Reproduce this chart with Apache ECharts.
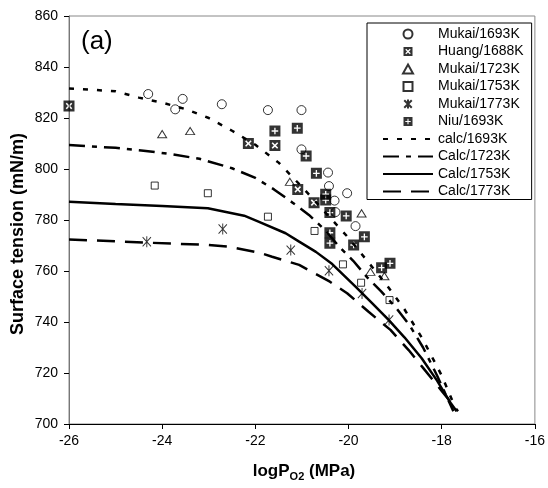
<!DOCTYPE html>
<html>
<head>
<meta charset="utf-8">
<script src="https://cdn.jsdelivr.net/npm/echarts@6/dist/echarts.min.js"></script>
<style>
html, body { margin: 0; padding: 0; background: #fff; }
#main { width: 548px; height: 488px; }
</style>
</head>
<body>
<div id="main"></div>
<script>
// measured points [logPO2, surface tension]
const mukai1693 = [[-24.3, 829.4], [-23.56, 827.5], [-23.72, 823.4], [-22.72, 825.4], [-21.73, 823.1], [-21.01, 823.1],
  [-21.01, 807.7], [-20.44, 798.6], [-20.42, 793.3], [-20.03, 790.5], [-20.3, 787.6], [-20.28, 783.1], [-19.85, 777.6]]
const huang1688 = [[-26, 824.7], [-22.15, 810], [-21.58, 809.2], [-21.09, 792], [-20.74, 786.8]]
const mukai1723 = [[-24.0, 813.7], [-23.4, 814.9], [-21.26, 795], [-19.72, 782.6], [-19.53, 759.7], [-19.23, 758]]
const mukai1753 = [[-24.16, 793.5], [-23.02, 790.5], [-21.73, 781.3], [-20.73, 775.7], [-20.12, 762.6], [-19.73, 755.4], [-19.12, 748.6]]
const mukai1773 = [[-24.33, 771.5], [-22.7, 776.5], [-21.24, 768.2], [-20.42, 760.1], [-19.71, 751.2], [-19.13, 740.8]]
const niu1693 = [[-21.58, 814.9], [-21.1, 816], [-20.91, 805.1], [-20.69, 798.3], [-20.49, 790.1], [-20.49, 787.8], [-20.4, 782.9],
  [-20.05, 781.6], [-20.4, 775], [-20.4, 770.9], [-19.66, 773.4], [-19.89, 770.2], [-19.29, 761.3], [-19.11, 763]]

// calculated curves
const calc1693 = [[-26, 831.6], [-25, 830.5], [-24.5, 828], [-24, 826], [-23.5, 823.5], [-23, 820], [-22.5, 815], [-22, 809.5],
  [-21.5, 802.5], [-21, 793], [-20.5, 783], [-20, 773], [-19.6, 764], [-19.2, 755], [-18.8, 745], [-18.4, 733], [-18, 719], [-17.7, 706]]
const calc1723 = [[-26, 809.4], [-25, 808.3], [-24.4, 807.2], [-23.8, 805.8], [-23.2, 804], [-22.5, 800.3], [-22, 796.5], [-21.6, 792],
  [-21.2, 786.8], [-20.85, 782], [-20.5, 776], [-20.2, 769.5], [-19.9, 764], [-19.6, 757.5], [-19.3, 752], [-19, 746], [-18.7, 739],
  [-18.4, 730], [-18.1, 719], [-17.75, 705]]
const calc1753 = [[-26, 787.2], [-25, 786.3], [-24, 785.5], [-23.02, 784.6], [-22.24, 781.7], [-21.92, 779.3], [-21.35, 774.8],
  [-21.06, 771.5], [-20.7, 767.5], [-20.35, 762.7], [-19.85, 753.9], [-19.5, 747.5], [-19.14, 740.8], [-18.8, 734], [-18.43, 725.8],
  [-18.1, 717], [-17.8, 708], [-17.68, 705]]
const calc1773 = [[-26, 772.4], [-24.3, 771.1], [-23, 770.2], [-22.56, 769.5], [-21.92, 767.2], [-21.64, 765.6], [-21.06, 762.4],
  [-20.4, 755.8], [-20.03, 751.3], [-19.57, 744], [-19.1, 736.9], [-18.71, 729], [-18.4, 722], [-18, 713], [-17.65, 705]]

const FONT = 'Liberation Sans, Arial, sans-serif'

// black square with a white X / plus cut out
const boxX = 'path://M0,0L10,0L10,10L0,10Z' +
  'M4,5L2,7L3,8L5,6L7,8L8,7L6,5L8,3L7,2L5,4L3,2L2,3Z'
const boxPlus = 'path://M0,0L10,0L10,10L0,10Z' +
  'M4.4,4.4L2,4.4L2,5.6L4.4,5.6L4.4,8L5.6,8L5.6,5.6L8,5.6L8,4.4L5.6,4.4L5.6,2L4.4,2Z'
const asterisk = 'path://M0,1L10,11M10,1L0,11M5,0L5,12'
const tri = 'path://M5,0L10,9L0,9Z'
const square = 'path://M0,0L10,0L10,10L0,10Z'

function scatter(name, data, symbol, size, filled) {
  return {
    name: name,
    type: 'scatter',
    data: data,
    symbol: symbol,
    symbolSize: size,
    symbolKeepAspect: true,
    z: 5,
    itemStyle: filled
      ? { color: '#000', borderWidth: 0 }
      : { color: 'rgba(255,255,255,0)', borderColor: '#000', borderWidth: 1 }
  }
}

function curve(name, data, dash) {
  return {
    name: name,
    type: 'line',
    data: data,
    symbol: 'none',
    z: 3,
    itemStyle: { color: '#000', opacity: 0 },
    lineStyle: { color: '#000', width: 2.5, type: dash }
  }
}

const chart = echarts.init(document.getElementById('main'))
chart.setOption({
  animation: false,
  backgroundColor: '#fff',
  grid: { left: 69, right: 11, top: 16, bottom: 64, show: true, borderColor: '#888', borderWidth: 1 },
  xAxis: {
    type: 'value',
    min: -26,
    max: -16,
    interval: 2,
    axisLine: { lineStyle: { color: '#000', width: 1 } },
    axisTick: { length: 5, lineStyle: { color: '#000' } },
    axisLabel: { color: '#000', fontSize: 14, fontFamily: FONT, margin: 10 },
    splitLine: { show: false }
  },
  yAxis: {
    type: 'value',
    min: 700,
    max: 860,
    interval: 20,
    axisLine: { show: true, lineStyle: { color: '#777', width: 1 } },
    axisTick: { show: true, length: 5, lineStyle: { color: '#000' } },
    axisLabel: { color: '#000', fontSize: 14, fontFamily: FONT, margin: 11 },
    splitLine: { show: false }
  },
  legend: {
    orient: 'vertical',
    left: 367,
    top: 23,
    padding: [4, 8, 1, 15],
    itemGap: 3.5,
    itemWidth: 50,
    itemHeight: 9,
    backgroundColor: '#fff',
    borderColor: '#000',
    borderWidth: 1,
    textStyle: { color: '#000', fontSize: 14, fontFamily: FONT, lineHeight: 13 },
    data: ['Mukai/1693K', 'Huang/1688K', 'Mukai/1723K', 'Mukai/1753K', 'Mukai/1773K', 'Niu/1693K',
      'calc/1693K', 'Calc/1723K', 'Calc/1753K', 'Calc/1773K']
  },
  graphic: [
    { type: 'text', left: 81, top: 29, style: { text: '(a)', fontSize: 26, fontFamily: FONT, fill: '#000' } },
    {
      type: 'text', x: 18, y: 234, rotation: Math.PI / 2,
      style: { text: 'Surface tension (mN/m)', fontSize: 18, fontWeight: 'bold', fontFamily: FONT, fill: '#000',
        align: 'center', verticalAlign: 'middle' }
    },
    {
      type: 'text', x: 304, y: 471,
      style: {
        text: '{a|logP}{b|O2}{a| (MPa)}', align: 'center', verticalAlign: 'middle', fontFamily: FONT, fill: '#000',
        rich: {
          a: { fontSize: 17, fontWeight: 'bold', fontFamily: FONT, lineHeight: 22 },
          b: { fontSize: 11, fontWeight: 'bold', fontFamily: FONT, lineHeight: 12, verticalAlign: 'bottom' }
        }
      }
    }
  ],
  series: [
    curve('calc/1693K', calc1693, [5, 9]),
    curve('Calc/1723K', calc1723, [16, 7, 5, 7]),
    curve('Calc/1753K', calc1753, 'solid'),
    curve('Calc/1773K', calc1773, [18, 10]),
    scatter('Mukai/1693K', mukai1693, 'circle', 9, false),
    scatter('Huang/1688K', huang1688, boxX, 11, true),
    scatter('Mukai/1723K', mukai1723, tri, [9, 8], false),
    scatter('Mukai/1753K', mukai1753, square, 7, false),
    scatter('Mukai/1773K', mukai1773, asterisk, [10, 11], false),
    scatter('Niu/1693K', niu1693, boxPlus, 11, true)
  ]
})
</script>
</body>
</html>
